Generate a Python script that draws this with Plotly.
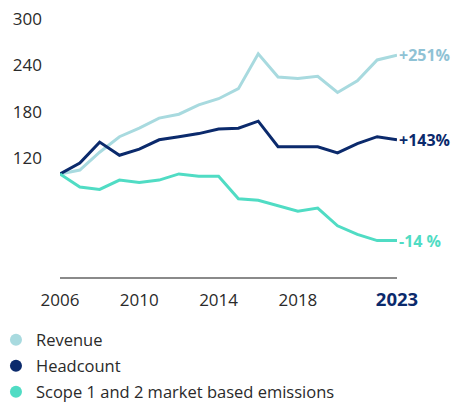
import plotly.graph_objects as go

years = list(range(2006, 2024))
revenue = [100, 105, 128, 148, 159, 172, 177, 189, 197, 210, 255, 225, 223, 226, 205, 220, 247, 253]
headcount = [100, 114, 141, 124, 132, 144, 148, 152, 158, 159, 168, 135, 135, 135, 127, 139, 148, 144]
emissions = [100, 83, 80, 92, 89, 92, 100, 97, 97, 68, 66, 59, 52, 56, 33, 22, 14, 14]

series_names = ["Revenue", "Headcount", "Scope 1 and 2 market based emissions"]
end_labels = ["+251%", "+143%", "-14 %"]
colors = ["#a8dadf", "#0b2a6c", "#50dcc4"]
label_colors = ["#8fc2d5", "#0b2a6c", "#50dcc4"]

x_tickvals = [2006, 2010, 2014, 2018, 2023]
x_ticktext = ["2006", "2010", "2014", "2018",
              "<b><span style='color:#0b2a6c;font-size:18.5px'>2023</span></b>"]
y_tickvals = [120, 180, 240, 300]

FONT = "Open Sans"

fig = go.Figure()
data = [revenue, headcount, emissions]
for name, vals, c in zip(series_names, data, colors):
    fig.add_trace(go.Scatter(x=years, y=vals, mode="lines", line=dict(color=c, width=3),
                             showlegend=False, hoverinfo="skip"))
for i, (name, c) in enumerate(zip(series_names, colors)):
    fig.add_trace(go.Scatter(x=[None], y=[None], mode="markers", name=name, legendgroup=f"g{i}",
                             marker=dict(color=c, size=11, symbol="circle")))

for vals, lab, c in zip(data, end_labels, label_colors):
    fig.add_annotation(x=years[-1], y=vals[-1], text="<b>" + lab + "</b>", showarrow=False,
                       xanchor="left", yanchor="middle", xshift=0,
                       font=dict(color=c, size=16, family=FONT))

fig.update_layout(
    width=452, height=403,
    margin=dict(l=60, r=55, t=15, b=126, autoexpand=False),
    plot_bgcolor="white", paper_bgcolor="white",
    font=dict(family=FONT, size=16, color="#2a2a2a"),
    xaxis=dict(range=[2006, 2023], tickvals=x_tickvals, ticktext=x_ticktext, automargin=False,
               showgrid=False, zeroline=False, showline=True, linecolor="#8a8a8a", linewidth=2,
               ticks="", ticklabelstandoff=7, tickfont=dict(size=17, color="#2a2a2a", family=FONT)),
    yaxis=dict(range=[-33, 305], tickvals=y_tickvals, showgrid=False, zeroline=False, automargin=False,
               showline=False, ticks="", ticklabelstandoff=17,
               tickfont=dict(size=17, color="#2a2a2a", family=FONT)),
    legend=dict(x=-0.19, y=-0.174, xanchor="left", yanchor="top", orientation="v",
                traceorder="grouped", tracegroupgap=1.5, bgcolor="rgba(0,0,0,0)",
                font=dict(size=16.5, color="#2a2a2a", family=FONT), itemsizing="constant"),
)

fig.write_html("out.html", config={"displayModeBar": False},
               post_script="document.body.style.margin='0';document.body.style.overflow='hidden';")
